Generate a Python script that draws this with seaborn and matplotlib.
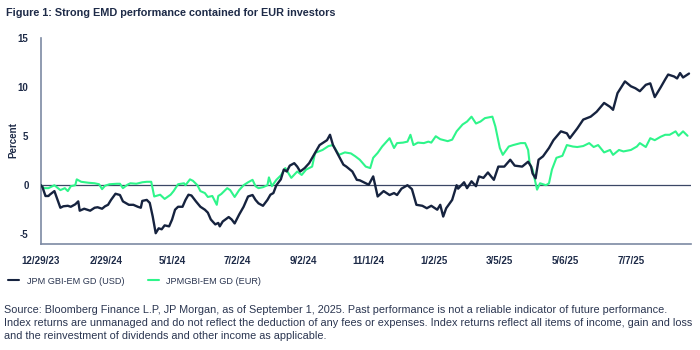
import numpy as np
import pandas as pd
import matplotlib
matplotlib.use("Agg")
import matplotlib.pyplot as plt
from matplotlib import font_manager
import seaborn as sns

# ---------------- data (trading-day index since 12/29/23, cumulative % return) ----------------
usd_day = [0, 1, 3, 5, 6, 9, 13, 15, 18, 20, 23, 25, 26, 29, 33, 36, 38, 41, 43, 45, 47, 50,
           53, 55, 59, 62, 65, 67, 68, 71, 73, 75, 77, 79, 81, 83, 86, 88, 90, 92, 95, 97, 99,
           101, 104, 107, 110, 112, 114, 117, 119, 120, 122, 126, 128, 130, 133, 136, 139, 142,
           144, 146, 149, 152, 154, 156, 158, 161, 163, 165, 167, 170, 172, 174, 177, 180, 184,
           187, 192, 194, 196, 200, 203, 205, 209, 212, 214, 218, 220, 223, 226, 230, 234, 237,
           239, 242, 246, 249, 252, 256, 259, 262, 266, 268, 270, 272, 276, 279, 280, 284, 286,
           289, 292, 294, 297, 300, 304, 307, 311, 315, 318, 323, 327, 329, 330, 332, 334, 337,
           341, 344, 349, 353, 355, 360, 364, 369, 373, 378, 382, 384, 387, 392, 396, 399, 402,
           406, 409, 412, 416, 419, 421, 425, 427, 429, 431, 435]
usd_val = [0.0, -0.2, -1.1, -1.1, -0.95, -0.6, -2.3, -2.15, -2.1, -2.2, -1.95, -1.65, -2.6, -2.4,
           -2.6, -2.3, -2.25, -2.4, -2.15, -2.0, -1.5, -0.87, -1.0, -1.65, -2.0, -2.0, -2.2, -2.3,
           -1.6, -1.5, -1.8, -3.2, -4.9, -4.4, -4.5, -4.1, -4.2, -3.5, -2.5, -2.2, -2.2, -1.5,
           -0.97, -1.05, -1.65, -2.2, -2.5, -2.8, -3.5, -4.0, -3.85, -4.2, -3.7, -3.25, -3.5,
           -3.9, -3.0, -2.2, -1.15, -1.0, -1.5, -1.85, -2.1, -1.5, -0.97, -0.8, 0.0, 0.6, 1.6,
           1.4, 2.0, 2.25, 1.9, 1.4, 1.75, 2.25, 3.3, 4.1, 4.6, 5.15, 4.1, 2.95, 2.1, 1.9, 1.4,
           0.55, 0.5, 0.2, 0.05, 0.9, -1.15, -0.6, -1.0, -0.8, -1.0, -0.35, 0.0, -0.4, -2.0,
           -2.1, -2.35, -2.1, -2.5, -2.0, -3.2, -2.35, -1.5, 0.0, -0.35, 0.3, -0.3, 0.4, -0.1,
           0.9, 0.75, 1.3, 0.55, 1.9, 1.9, 2.6, 2.0, 1.9, 2.4, 1.9, 1.2, 0.7, 2.6, 2.95, 3.8,
           4.6, 5.5, 5.3, 4.8, 5.8, 6.7, 7.0, 7.5, 8.4, 8.0, 7.7, 9.4, 10.6, 10.1, 9.9, 9.6,
           10.25, 10.4, 9.0, 10.0, 10.8, 11.3, 11.1, 10.9, 11.45, 11.0, 11.4]

eur_day = [0, 2, 5, 9, 13, 16, 18, 20, 23, 24, 27, 32, 36, 39, 41, 43, 46, 51, 53, 55, 58, 60,
           64, 68, 71, 74, 76, 80, 83, 87, 89, 92, 96, 97, 100, 102, 105, 107, 110, 112, 115,
           118, 119, 121, 125, 127, 130, 133, 136, 139, 142, 144, 146, 149, 152, 153, 155, 158,
           161, 164, 168, 172, 175, 178, 182, 184, 189, 193, 196, 200, 204, 208, 211, 214, 218,
           221, 223, 226, 229, 234, 237, 239, 243, 246, 248, 250, 253, 257, 260, 262, 265, 268,
           273, 276, 279, 283, 286, 289, 292, 295, 298, 303, 305, 308, 310, 314, 317, 322, 325,
           327, 328, 330, 333, 335, 339, 341, 343, 346, 350, 353, 357, 360, 364, 368, 371, 374,
           378, 382, 384, 388, 391, 396, 400, 402, 406, 409, 412, 416, 419, 422, 426, 428, 431,
           434]
eur_val = [0.0, -0.3, -0.3, 0.0, -0.5, -0.3, -0.6, -0.1, 0.0, 0.6, 0.35, 0.25, 0.2, 0.1, -0.4,
           -0.05, 0.1, 0.15, 0.15, -0.3, 0.05, 0.2, 0.15, 0.3, 0.35, 0.35, -1.15, -0.97, -1.4,
           -0.97, -0.6, 0.1, 0.2, 0.0, 0.6, 0.45, 0.0, -0.6, -0.8, -1.2, -1.1, -2.0, -1.1, -0.9,
           -0.3, -0.5, -1.2, -0.5, 0.0, 0.3, 0.55, -0.1, -0.3, -0.2, 0.0, 0.8, -0.1, 0.55, 1.0,
           1.75, 0.75, 1.4, 1.05, 1.6, 1.9, 3.3, 3.6, 4.0, 4.1, 3.1, 3.35, 3.25, 2.95, 2.6, 1.9,
           1.75, 2.8, 3.3, 3.95, 4.8, 3.8, 4.3, 4.35, 4.45, 5.15, 4.1, 4.35, 4.3, 4.45, 4.35, 5.0,
           4.7, 4.5, 4.65, 5.5, 6.2, 6.5, 7.0, 6.3, 6.5, 6.85, 7.0, 6.0, 3.8, 3.1, 3.95, 4.1, 4.3,
           4.3, 3.6, 2.25, 1.6, -0.45, 0.2, 0.0, 0.2, 1.6, 2.8, 3.0, 4.1, 3.95, 3.9, 4.0, 4.3,
           3.9, 4.1, 3.35, 3.6, 3.1, 3.6, 3.45, 3.6, 3.95, 4.3, 3.9, 4.8, 4.6, 4.95, 5.15, 5.15,
           5.5, 5.05, 5.5, 5.05]

series_names = ["JPM GBI-EM GD (USD)", "JPMGBI-EM GD (EUR)"]
tick_days = [0, 44, 88, 132, 176, 220, 264, 308, 352, 396]
tick_labels = ["12/29/23", "2/29/24", "5/1/24", "7/2/24", "9/2/24", "11/1/24",
               "1/2/25", "3/5/25", "5/6/25", "7/7/25"]
y_ticks = [-5, 0, 5, 10, 15]

title = "Figure 1: Strong EMD performance contained for EUR investors"
footnote = ("Source: Bloomberg Finance L.P, JP Morgan, as of September 1, 2025. Past performance "
            "is not a reliable indicator of future performance.\n"
            "Index returns are unmanaged and do not reflect the deduction of any fees or expenses. "
            "Index returns reflect all items of income, gain and loss\n"
            "and the reinvestment of dividends and other income as applicable.")

# ---------------- style ----------------
NAVY = "#16233f"
GREEN = "#2ef58a"
AXIS = "#7d8aa3"
TEXT = "#1e2b48"

sns.set_theme(style="white")
names = {f.name for f in font_manager.fontManager.ttflist}
if "Liberation Sans Narrow" in names:
    FAM = ["Liberation Sans Narrow", "DejaVu Sans"]
    s_tick, s_title, s_leg, s_foot = 8.3, 9.4, 8.0, 9.5
else:
    FAM = ["Liberation Sans", "DejaVu Sans"]
    s_tick, s_title, s_leg, s_foot = 7.0, 7.85, 6.6, 7.8
plt.rcParams["font.family"] = FAM
plt.rcParams["axes.unicode_minus"] = False

df = pd.concat([
    pd.DataFrame({"day": usd_day, "value": usd_val, "series": series_names[0]}),
    pd.DataFrame({"day": eur_day, "value": eur_val, "series": series_names[1]}),
], ignore_index=True)

fig = plt.figure(figsize=(7, 3.5), dpi=100)
ax = fig.add_axes([41 / 700, 1 - 243.5 / 350, 649.5 / 700, (243.5 - 38.3) / 350])

ax.axhline(0, color="#3b4766", lw=0.9, zorder=1)
sns.lineplot(data=df[df.series == series_names[1]], x="day", y="value", color=GREEN,
             linewidth=1.5, ax=ax, legend=False, zorder=3)
sns.lineplot(data=df[df.series == series_names[0]], x="day", y="value", color=NAVY,
             linewidth=1.7, ax=ax, legend=False, zorder=4)

ax.set_xlim(0, 436)
ax.set_ylim(-5.95, 15)
ax.set_xticks(tick_days)
ax.set_xticklabels(tick_labels)
ax.set_yticks(y_ticks)
ax.set_yticklabels([str(v) for v in y_ticks])
ax.set_xlabel("")
ax.set_ylabel("")
for s in ["top", "right"]:
    ax.spines[s].set_visible(False)
for s in ["left", "bottom"]:
    ax.spines[s].set_color(AXIS)
    ax.spines[s].set_linewidth(1.2)
ax.tick_params(axis="both", colors=AXIS, length=3, width=0.8, direction="out",
               labelcolor=TEXT, labelsize=s_tick, pad=6)
for lab in ax.get_xticklabels() + ax.get_yticklabels():
    lab.set_fontweight("bold")

fig.text(8 / 700, 1 - 140 / 350, "Percent", rotation=90, ha="left", va="center",
         fontsize=s_tick, fontweight="bold", color=TEXT)
fig.text(6 / 700, 1 - 13 / 350, title, ha="left", va="center", fontsize=s_title,
         fontweight="bold", color=TEXT)

handles = [plt.Line2D([], [], color=NAVY, lw=1.5), plt.Line2D([], [], color=GREEN, lw=1.5)]
fig.legend(handles, series_names, loc="center left", bbox_to_anchor=(0 / 700, 1 - 281 / 350),
           ncol=2, frameon=False, fontsize=s_leg, handlelength=1.2, handletextpad=0.8,
           columnspacing=2.6, labelcolor="#2a3550")

fig.text(4 / 700, 1 - 323 / 350, footnote, ha="left", va="center", fontsize=s_foot,
         color="#2a3550", linespacing=1.35)

fig.savefig("out.png", dpi=100)
